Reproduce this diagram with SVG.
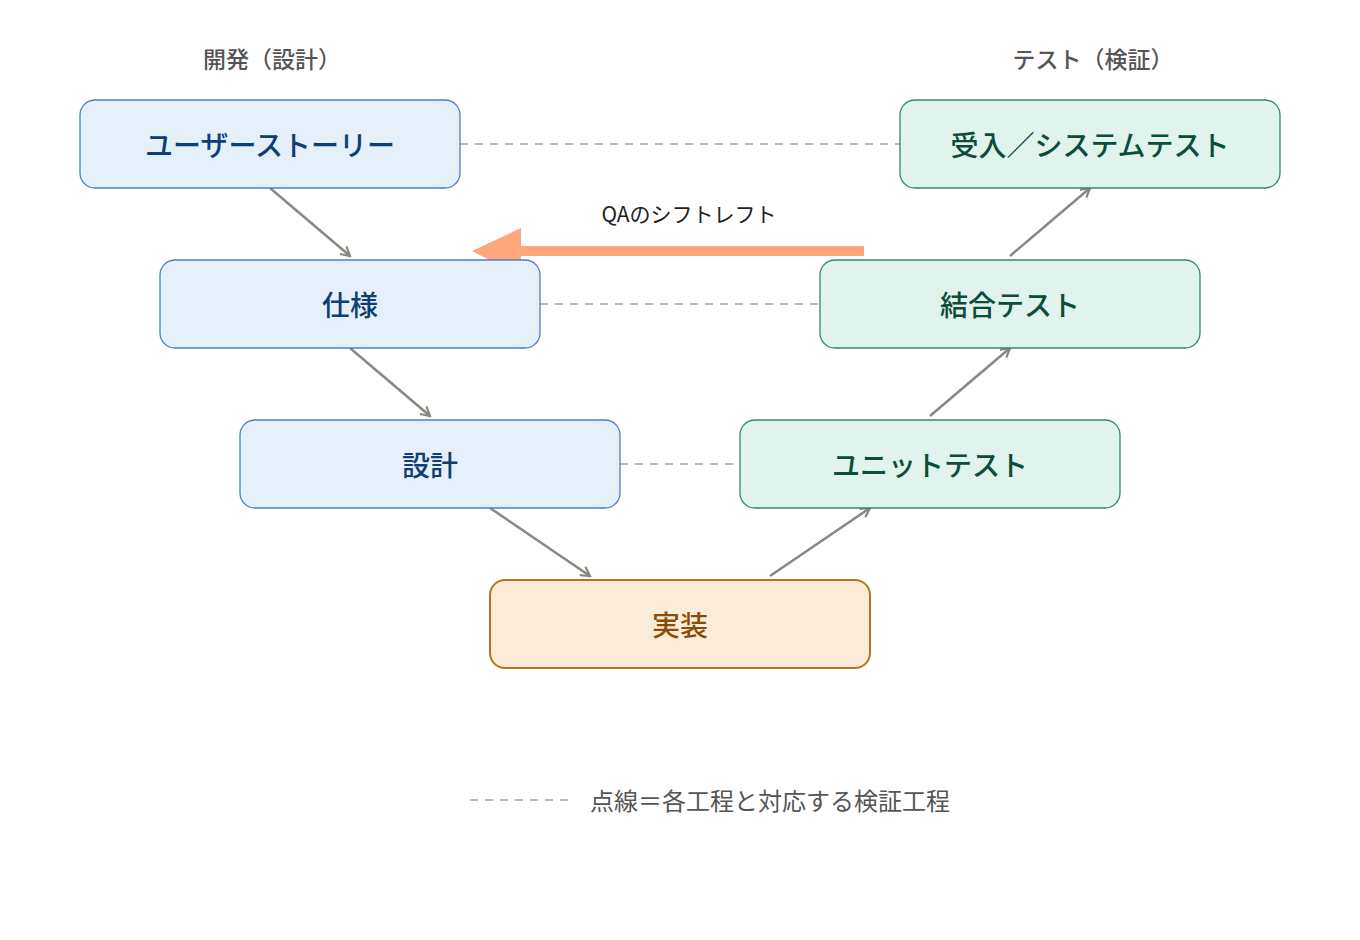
<svg xmlns="http://www.w3.org/2000/svg" width="1360" height="940" viewBox="0 0 1360 940">
<defs>
<style>
text{font-family:"Noto Sans CJK JP","Noto Sans",sans-serif;text-anchor:middle;}
.hdr{font-size:23px;fill:#555;font-weight:500;}
.dev rect{fill:#e6f0fa;stroke:#4a80c2;stroke-width:1.3;}
.dev text{fill:#0d3f73;font-size:28px;font-weight:500;}
.tst rect{fill:#e0f3ec;stroke:#2e8a66;stroke-width:1.3;}
.tst text{fill:#0b4d3a;font-size:28px;font-weight:500;}
.imp rect{fill:#faecd9;stroke:#b8741a;stroke-width:2;}
.imp text{fill:#8a4d08;font-size:28px;font-weight:500;}
.flow{stroke:#888880;stroke-width:2.5;fill:none;marker-end:url(#ah);}
.dash{stroke:#bbb7b2;stroke-width:2;stroke-dasharray:8 7;fill:none;}
</style>
<marker id="ah" viewBox="0 0 12 12" refX="10" refY="6" markerWidth="12" markerHeight="12" markerUnits="userSpaceOnUse" orient="auto">
<path d="M1,1 L10,6 L1,11" fill="none" stroke="#888880" stroke-width="2.2"/>
</marker>
</defs>
<rect width="1360" height="940" fill="#fff"/>
<text class="hdr" x="272" y="68">開発（設計）</text>
<text class="hdr" x="1093" y="68">テスト（検証）</text>
<g id="connectors">
<path class="dash" d="M460,144 H900"/>
<path class="dash" d="M540,304 H820"/>
<path class="dash" d="M620,464 H740"/>
<path class="flow" d="M270,188 L350,256"/>
<path class="flow" d="M350,348 L430,416"/>
<path class="flow" d="M490,508 L590,576"/>
<path class="flow" d="M770,576 L870,508"/>
<path class="flow" d="M930,416 L1010,348"/>
<path class="flow" d="M1010,256 L1090,188"/>
<g id="shift-left">
<path d="M864,251 H515" stroke="#ffa77c" stroke-width="10" fill="none"/>
<polygon points="472,251 521,228 521,276" fill="#ffa77c"/>
<text x="689" y="222" style="font-size:21px;fill:#222;">QAのシフトレフト</text>
</g>
</g>
<g id="n-userstory" class="dev"><rect x="80" y="100" width="380" height="88" rx="15"/><text x="270" y="156">ユーザーストーリー</text></g>
<g id="n-spec" class="dev"><rect x="160" y="260" width="380" height="88" rx="15"/><text x="350" y="316">仕様</text></g>
<g id="n-design" class="dev"><rect x="240" y="420" width="380" height="88" rx="15"/><text x="430" y="476">設計</text></g>
<g id="n-impl" class="imp"><rect x="490" y="580" width="380" height="88" rx="15"/><text x="680" y="636">実装</text></g>
<g id="n-unit" class="tst"><rect x="740" y="420" width="380" height="88" rx="15"/><text x="930" y="476">ユニットテスト</text></g>
<g id="n-integ" class="tst"><rect x="820" y="260" width="380" height="88" rx="15"/><text x="1010" y="316">結合テスト</text></g>
<g id="n-accept" class="tst"><rect x="900" y="100" width="380" height="88" rx="15"/><text x="1090" y="156">受入／システムテスト</text></g>
<g id="legend">
<path class="dash" d="M470,800 H570" stroke-dasharray="7 8"/>
<text x="590" y="810" style="font-size:24px;fill:#555;text-anchor:start;">点線＝各工程と対応する検証工程</text>
</g>
</svg>
